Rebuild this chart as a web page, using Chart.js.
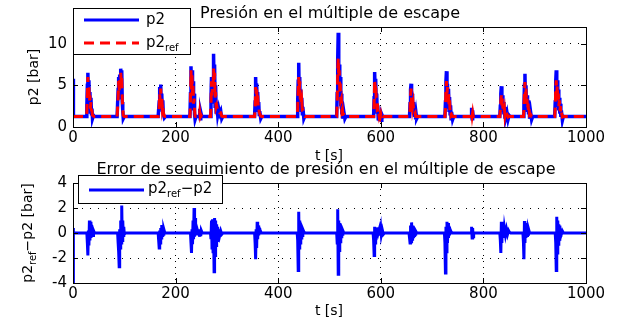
<!DOCTYPE html>
<html lang="es">
<head>
  <meta charset="UTF-8">
  <title>Presión en el múltiple de escape</title>
  <script src="https://cdn.jsdelivr.net/npm/chart.js"></script>
  <style>
    body { margin: 0; background: #fff; font-family: "DejaVu Sans", sans-serif; color: #000; }
    #wrap { position: relative; width: 626px; height: 322px; overflow: hidden; }
    canvas { position: absolute; left: 0; }
    .txt { position: absolute; white-space: nowrap; transform: translate(-50%, -50%); }
    .rot { transform: translate(-50%, -50%) rotate(-90deg); }
    .legend { position: absolute; background: #fff; border: 1px solid #000; box-sizing: border-box; z-index: 2; }
    .legend svg { position: absolute; left: 0; top: 0; }
    .legend span { position: absolute; font-size: 15px; line-height: 15px; white-space: nowrap; }
    sub { font-size: 10px; vertical-align: -4px; line-height: 0; }
  </style>
</head>
<body>
<div id="wrap">
  <canvas id="topChart" width="626" height="150" style="top:0"></canvas>
  <canvas id="errChart" width="626" height="150" style="top:160px"></canvas>

  <div class="txt" style="left:330px; top:12px; font-size:16px">Presión en el múltiple de escape</div>
  <div class="txt" style="left:329px; top:155px; font-size:14px">t [s]</div>
  <div class="txt rot" style="left:33px; top:77px; font-size:14px">p2 [bar]</div>

  <div class="txt" style="left:326px; top:168px; font-size:16px">Error de seguimiento de presión en el múltiple de escape</div>
  <div class="txt" style="left:329px; top:310px; font-size:14px">t [s]</div>
  <div class="txt rot" style="left:27px; top:233px; font-size:14px">p2<sub>ref</sub>−p2 [bar]</div>

  <div class="legend" style="left:73px; top:8px; width:118px; height:47px">
    <svg width="118" height="47">
      <line x1="10" y1="11" x2="65" y2="11" stroke="#0000ff" stroke-width="3"/>
      <line x1="10" y1="34" x2="65" y2="34" stroke="#ff0000" stroke-width="3" stroke-dasharray="10,6"/>
    </svg>
    <span style="left:72px; top:3px">p2</span>
    <span style="left:72px; top:26px">p2<sub>ref</sub></span>
  </div>
  <div class="legend" style="left:78px; top:175px; width:145px; height:29px">
    <svg width="145" height="29">
      <line x1="10" y1="14" x2="65" y2="14" stroke="#0000ff" stroke-width="3"/>
    </svg>
    <span style="left:69px; top:5px">p2<sub>ref</sub>−p2</span>
  </div>
</div>

<script>
// measured pressure p2 and reference p2_ref [bar], one line per event
const tTop = [
  0, 0.8,
  26, 27, 28, 29, 30, 31, 32, 33, 34, 35, 36, 37, 38, 40, 42,
  86, 88, 89, 90, 91, 92, 93, 94, 95, 96, 97, 98, 100,
  166, 168, 169, 170, 171, 172, 173, 174, 175, 176, 178, 180,
  228, 229, 230, 231, 232, 233, 234, 235, 236, 237, 238, 240, 242, 246, 247, 248, 249, 251,
  268, 269, 270, 271, 272, 273, 274, 275, 276, 277, 278, 279, 280, 282, 284, 286, 288, 290, 292,
  354, 355, 356, 357, 358, 359, 360, 361, 362, 363, 364, 366, 368,
  437, 438, 439, 440, 441, 442, 443, 444, 445, 446, 447, 448, 450, 452, 455,
  514, 515, 516, 517, 518, 519, 520, 521, 522, 523, 524, 525, 526, 528, 530, 532,
  586, 587, 588, 589, 590, 591, 592, 593, 594, 595, 596, 597, 598, 599, 600, 601, 602, 604, 606,
  656, 657, 658, 659, 660, 661, 662, 663, 664, 665, 666, 667, 668, 669, 670, 672,
  725, 726, 727, 728, 729, 730, 731, 732, 733, 734, 735, 736, 737, 738, 740, 742,
  776, 777, 778, 779, 780,
  832, 833, 834, 835, 836, 837, 838, 839, 840, 841, 842, 843, 844, 846, 848, 850, 852,
  878, 879, 880, 881, 882, 883, 884, 885, 886, 887, 888, 889, 890, 892, 894, 896,
  939, 940, 941, 942, 943, 944, 945, 946, 947, 948, 949, 950, 951, 952, 954, 956, 958,
  1000
];
const p2 = [
  5.8, 1.25,
  1.25, 2.5, 5.0, 6.5, 3.0, 5.6, 2.4, 4.2, 1.8, 3.5, 1.6, 2.2, 1.0, 1.4, 1.25,
  1.25, 4.5, 6.0, 3.5, 6.3, 4.0, 7.0, 5.0, 6.8, 3.0, 2.0, 1.0, 1.25,
  1.25, 3.0, 4.8, 2.5, 5.1, 2.2, 4.0, 2.0, 3.2, 1.6, 1.1, 1.25,
  1.25, 4.0, 7.3, 3.5, 6.8, 3.0, 5.5, 2.0, 4.0, 1.5, 0.9, 1.3, 1.25, 1.25, 2.2, 1.0, 1.8, 1.25,
  1.25, 3.5, 6.0, 3.0, 5.5, 4.0, 8.8, 4.5, 7.5, 2.5, 5.0, 1.8, 3.0, 1.5, 2.2, 1.6, 1.9, 1.0, 1.25,
  1.25, 3.0, 6.0, 3.5, 5.2, 2.8, 4.2, 2.0, 3.0, 1.5, 1.9, 1.0, 1.25,
  1.25, 3.0, 5.5, 7.7, 3.5, 6.0, 2.5, 4.5, 2.0, 3.5, 1.6, 2.4, 1.0, 1.3, 1.25,
  1.25, 4.0, 8.0, 11.3, 5.0, 7.5, 3.5, 6.0, 2.5, 4.0, 1.5, 2.4, 1.0, 1.8, 1.0, 1.25,
  1.25, 3.5, 6.6, 4.0, 5.8, 3.0, 4.0, 1.8, 2.6, 1.0, 1.8, 0.9, 1.6, 1.0, 1.7, 0.8, 1.5, 1.2, 1.25,
  1.25, 2.8, 4.5, 5.2, 2.5, 4.0, 1.8, 3.0, 1.6, 2.4, 1.2, 2.0, 0.9, 1.5, 1.0, 1.25,
  1.25, 3.0, 5.5, 6.7, 3.0, 5.2, 2.4, 4.6, 2.0, 3.6, 1.6, 2.6, 1.0, 1.8, 0.9, 1.25,
  1.25, 2.3, 1.0, 2.0, 1.25,
  1.25, 2.5, 4.0, 4.9, 2.2, 3.8, 1.8, 3.0, 1.5, 2.4, 1.0, 2.0, 1.2, 1.7, 0.9, 1.4, 1.25,
  1.25, 2.5, 5.0, 6.4, 2.8, 5.0, 2.2, 3.8, 1.8, 3.2, 1.5, 2.6, 1.0, 1.8, 0.9, 1.25,
  1.25, 3.0, 5.5, 6.8, 3.0, 5.6, 2.4, 4.5, 2.0, 3.5, 1.6, 2.8, 1.2, 2.0, 0.8, 1.3, 1.25,
  1.25
];
const p2ref = [
  1.25, 1.25,
  1.25, 1.8, 4.0, 6.0, 4.0, 5.0, 3.0, 3.8, 2.2, 3.0, 2.0, 1.9, 1.4, 1.3, 1.25,
  1.25, 3.5, 5.5, 4.2, 5.8, 4.8, 6.5, 5.5, 6.0, 3.5, 2.2, 1.4, 1.25,
  1.25, 2.4, 4.0, 3.0, 4.6, 2.6, 3.6, 2.4, 2.8, 1.8, 1.3, 1.25,
  1.25, 3.0, 6.8, 4.5, 6.2, 3.8, 5.0, 2.8, 3.4, 2.0, 1.3, 1.25, 1.25, 1.25, 1.8, 1.3, 1.5, 1.25,
  1.25, 2.8, 5.5, 3.8, 5.0, 4.8, 7.0, 5.5, 6.5, 3.5, 4.2, 2.4, 2.6, 1.9, 2.0, 1.7, 1.7, 1.3, 1.25,
  1.25, 2.2, 4.8, 4.0, 4.6, 3.2, 3.8, 2.5, 2.6, 1.8, 1.6, 1.3, 1.25,
  1.25, 2.2, 4.5, 6.0, 4.5, 5.5, 3.2, 4.0, 2.6, 3.0, 2.0, 2.0, 1.4, 1.25, 1.25,
  1.25, 3.0, 6.5, 8.3, 6.0, 6.8, 4.2, 5.2, 3.2, 3.4, 2.0, 2.2, 1.5, 1.5, 1.25, 1.25,
  1.25, 2.8, 5.7, 4.6, 5.2, 3.5, 3.5, 2.2, 2.3, 1.4, 1.6, 1.2, 1.4, 1.2, 1.5, 1.1, 1.4, 1.25, 1.25,
  1.25, 2.2, 3.8, 4.6, 3.0, 3.5, 2.4, 2.8, 2.0, 2.0, 1.6, 1.7, 1.3, 1.3, 1.25, 1.25,
  1.25, 2.2, 4.5, 5.5, 4.0, 4.8, 3.0, 4.0, 2.6, 3.2, 2.0, 2.2, 1.4, 1.5, 1.25, 1.25,
  1.25, 1.8, 1.3, 1.7, 1.25,
  1.25, 2.0, 3.2, 3.8, 2.6, 3.4, 2.2, 2.8, 1.9, 2.2, 1.4, 1.8, 1.4, 1.5, 1.2, 1.3, 1.25,
  1.25, 2.0, 4.2, 5.4, 3.4, 4.6, 2.8, 3.4, 2.2, 2.8, 1.8, 2.2, 1.4, 1.5, 1.25, 1.25,
  1.25, 2.4, 4.6, 5.6, 4.0, 5.0, 3.0, 4.0, 2.5, 3.2, 2.0, 2.5, 1.5, 1.8, 1.2, 1.25, 1.25,
  1.25
];

// tracking error p2_ref - p2 [bar]
const tErr = [
  0, 0.3, 1.2,
  27, 28, 29, 30, 31, 32, 33, 34, 35, 36, 37, 38, 39, 40, 42,
  87, 88, 89, 90, 91, 92, 93, 94, 95, 96, 97, 98, 99, 100, 102,
  166, 167, 168, 169, 170, 171, 172, 173, 174, 175, 176, 177, 179,
  229, 230, 231, 232, 233, 234, 235, 236, 237, 238, 239, 240, 241, 242, 244, 246, 247, 248, 249, 250, 252,
  268, 269, 270, 271, 272, 273, 274, 275, 276, 277, 278, 279, 280, 281, 282, 283, 284, 286, 288, 290, 292,
  354, 355, 356, 357, 358, 359, 360, 361, 362, 363, 364, 365, 367,
  437, 438, 439, 440, 441, 442, 443, 444, 445, 446, 447, 448, 450, 452,
  514, 515, 516, 517, 518, 519, 520, 521, 522, 523, 524, 525, 526, 528,
  585, 586, 587, 588, 589, 590, 591, 592, 593, 594, 595, 597, 598, 600, 601, 603, 605, 607,
  655, 656, 657, 658, 659, 660, 661, 662, 663, 664, 665, 666, 667, 668, 670,
  724, 725, 726, 727, 728, 729, 730, 731, 732, 733, 734, 735, 737, 739,
  776, 777, 778, 779, 780, 781,
  832, 833, 834, 835, 836, 837, 838, 839, 840, 841, 843, 845, 847, 849, 851, 853,
  877, 878, 879, 880, 881, 882, 883, 884, 885, 886, 887, 888, 890,
  940, 941, 942, 943, 944, 945, 946, 947, 948, 949, 950, 951, 952, 954, 956,
  1000
];
const err = [
  0.4, -4.5, 0,
  0, -0.8, -1.8, 0.2, -1.0, 1.0, -0.6, 0.9, -0.4, 0.6, -0.3, 0.4, -0.2, 0.2, 0,
  0, -0.8, -1.5, -2.7, 0.3, -1.2, 1.0, -0.8, 2.2, -0.6, 1.0, -0.2, 0.5, -0.1, 0,
  0, -0.6, -1.2, 0.2, -0.8, 0.4, -0.4, 0.65, -0.2, 0.5, -0.1, 0.3, 0,
  0, -0.8, -1.6, 0.3, -0.9, 1.0, -0.5, 2.0, -0.3, 1.2, 0.1, 0.5, -0.2, 0.3, 0, 0, -0.3, 0.3, -0.25, 0.2, 0,
  0, -0.5, 1.0, -1.2, 1.1, -1.5, 0.8, -3.1, 1.2, -1.8, 1.0, -1.0, 0.7, -0.6, 0.5, -0.3, 0.3, -0.2, 0.15, -0.1, 0,
  0, -0.8, -2.1, 0.3, -1.2, 0.9, -0.5, 0.6, -0.2, 0.4, -0.1, 0.2, 0,
  0, -0.6, -3.0, 1.7, -1.2, 1.0, -0.8, 0.7, -0.4, 0.5, -0.2, 0.3, 0.1, 0,
  0, -0.8, 1.9, -3.3, 1.0, -1.4, 0.8, -0.7, 0.6, -0.3, 0.4, -0.1, 0.2, 0,
  0, -0.6, -1.8, 0.5, -0.8, 0.4, -0.3, 0.45, -0.1, 0.3, 0, 0.3, -0.2, 0.35, -0.15, 0.25, -0.1, 0,
  0, -0.4, -0.8, 0.6, -0.7, 0.85, -0.5, 0.6, -0.3, 0.4, -0.2, 0.3, -0.1, 0.15, 0,
  0, -0.8, -3.2, 0.5, -1.5, 0.9, -0.8, 0.8, -0.4, 0.5, -0.2, 0.3, 0.1, 0,
  0, 0.5, -0.4, 0.4, -0.3, 0,
  0, -0.6, -1.6, 0.9, -0.8, 0.8, -0.4, 0.6, -0.2, 0.4, -0.15, 0.3, -0.1, 0.2, 0.05, 0,
  0, -0.7, -2.1, 0.95, -0.8, 0.8, -0.4, 0.6, -0.2, 0.5, -0.1, 0.3, 0,
  0, -0.8, -3.0, 1.3, -1.6, 1.0, -0.9, 0.7, -0.5, 0.6, -0.2, 0.3, -0.1, 0.15, 0,
  0
];

const xTicks = [0, 200, 400, 600, 800, 1000];
const yTicksTop = [0, 5, 10];
const yTicksErr = [-4, -2, 0, 2, 4];

const FONT = { family: 'DejaVu Sans', size: 15 };

// matlab style box with inward tick marks
const boxPlugin = {
  id: 'box',
  afterDraw(chart) {
    const { ctx, chartArea: a, scales } = chart;
    ctx.save();
    ctx.strokeStyle = '#000';
    ctx.lineWidth = 1;
    ctx.strokeRect(a.left + 0.5, a.top + 0.5, a.right - a.left, a.bottom - a.top);
    ctx.beginPath();
    scales.x.ticks.forEach(t => {
      const px = Math.round(scales.x.getPixelForValue(t.value)) + 0.5;
      ctx.moveTo(px, a.bottom); ctx.lineTo(px, a.bottom - 5);
      ctx.moveTo(px, a.top); ctx.lineTo(px, a.top + 5);
    });
    scales.y.ticks.forEach(t => {
      const py = Math.round(scales.y.getPixelForValue(t.value)) + 0.5;
      ctx.moveTo(a.left, py); ctx.lineTo(a.left + 5, py);
      ctx.moveTo(a.right, py); ctx.lineTo(a.right - 5, py);
    });
    ctx.stroke();
    ctx.restore();
  }
};

function makeOptions(yMin, yMax, yTicks, topPad, xHeight) {
  return {
    responsive: false,
    animation: false,
    events: [],
    layout: { padding: { left: 0, right: 40, top: topPad, bottom: 0 } },
    plugins: { legend: { display: false }, tooltip: { enabled: false } },
    elements: { point: { radius: 0 }, line: { tension: 0 } },
    scales: {
      x: {
        type: 'linear', min: 0, max: 1000,
        afterBuildTicks: s => { s.ticks = xTicks.map(v => ({ value: v })); },
        afterFit: s => { s.height = xHeight; },
        ticks: { font: FONT, color: '#000', padding: 2, maxRotation: 0, callback: v => String(v) },
        grid: { color: '#000', lineWidth: 1, drawTicks: false },
        border: { display: true, color: '#000', dash: [1, 5] }
      },
      y: {
        min: yMin, max: yMax,
        afterBuildTicks: s => { s.ticks = yTicks.map(v => ({ value: v })); },
        afterFit: s => { s.width = 73; },
        ticks: { font: FONT, color: '#000', padding: 6, callback: v => String(v) },
        grid: { color: '#000', lineWidth: 1, drawTicks: false },
        border: { display: true, color: '#000', dash: [1, 7] }
      }
    }
  };
}

new Chart(document.getElementById('topChart'), {
  type: 'line',
  data: {
    datasets: [
      {
        label: 'p2ref',
        data: tTop.map((t, i) => ({ x: t, y: p2ref[i] })),
        borderColor: '#ff0000', borderWidth: 3, borderDash: [10, 6], order: 0
      },
      {
        label: 'p2',
        data: tTop.map((t, i) => ({ x: t, y: p2[i] })),
        borderColor: '#0000ff', borderWidth: 3.5, order: 1
      }
    ]
  },
  options: makeOptions(0, 12, yTicksTop, 27, 23),
  plugins: [boxPlugin]
});

new Chart(document.getElementById('errChart'), {
  type: 'line',
  data: {
    datasets: [
      {
        label: 'p2ref-p2',
        data: tErr.map((t, i) => ({ x: t, y: err[i] })),
        borderColor: '#0000ff', borderWidth: 3
      }
    ]
  },
  options: makeOptions(-4, 4, yTicksErr, 23, 27),
  plugins: [boxPlugin]
});
</script>
</body>
</html>
